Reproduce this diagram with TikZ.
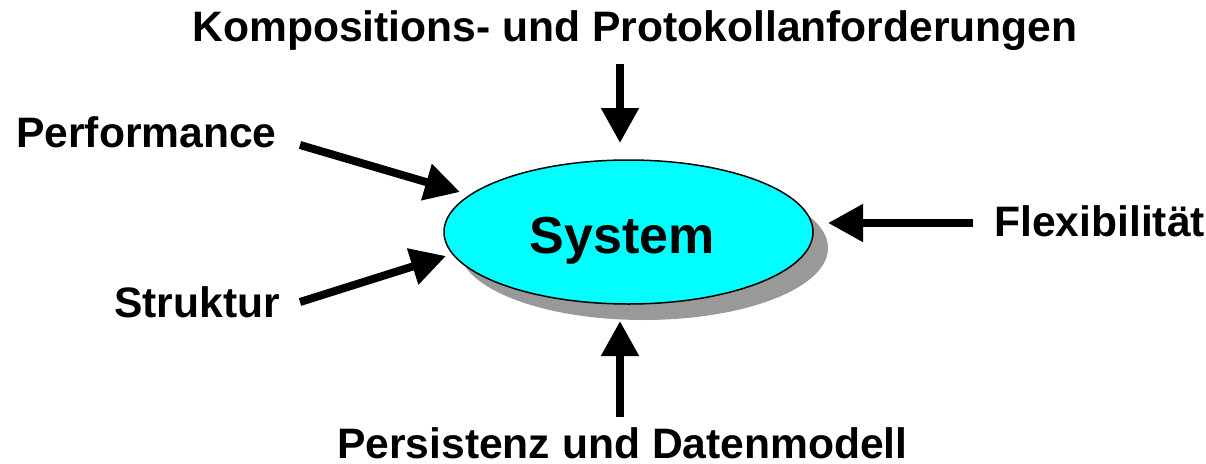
\documentclass[tikz,border=0pt]{standalone}
\usepackage{fontspec}
\setmainfont{Liberation Sans}
\usetikzlibrary{arrows.meta,shapes.geometric}
\definecolor{sysfill}{HTML}{00FFFF}
\definecolor{shadowgray}{HTML}{999999}
\tikzset{
  lbl/.style={font=\bfseries\fontsize{42.6}{50}\selectfont, inner sep=0pt, anchor=base},
  bigarrow/.style={line width=8pt, -{Triangle[length=35pt,width=36pt]}},
}
\begin{document}
\begin{tikzpicture}[x=1pt,y=-1pt]
\useasboundingbox (0,0) rectangle (1206,463);
% shadow
\fill[shadowgray] (643.5,248) ellipse [x radius=184.5, y radius=72];
\node[ellipse, draw, line width=1.5pt, fill=sysfill, minimum width=369pt, minimum height=144pt, inner sep=0pt] (sys) at (628.5,232) {};
\node[font=\bfseries\fontsize{52}{60}\selectfont, inner sep=0pt, anchor=base] (systxt) at (622,253) {System};
% labels
\node[lbl] (komp) at (635,41) {Kompositions- und Protokollanforderungen};
\node[lbl, anchor=base west] (perf) at (16,147) {Performance};
\node[lbl, anchor=base west] (strukt) at (114,317) {Struktur};
\node[lbl, anchor=base west] (flex) at (994,236) {Flexibilität};
\node[lbl, anchor=base west, text depth=0pt] (pers) at (337,458) {Persistenz und Datenmodell};
% arrow ends
\coordinate (kompS) at (620,64);
\coordinate (kompE) at (620,143);
\coordinate (perfS) at (300,145);
\coordinate (perfE) at (460,192);
\coordinate (struktS) at (300,302);
\coordinate (struktE) at (446,256);
\coordinate (flexS) at (973,223);
\coordinate (flexE) at (828,223);
\coordinate (persS) at (620,417);
\coordinate (persE) at (620,321);
\draw[bigarrow] (kompS) -- (kompE);
\draw[bigarrow] (perfS) -- (perfE);
\draw[bigarrow] (struktS) -- (struktE);
\draw[bigarrow] (flexS) -- (flexE);
\draw[bigarrow] (persS) -- (persE);
\end{tikzpicture}
\end{document}
